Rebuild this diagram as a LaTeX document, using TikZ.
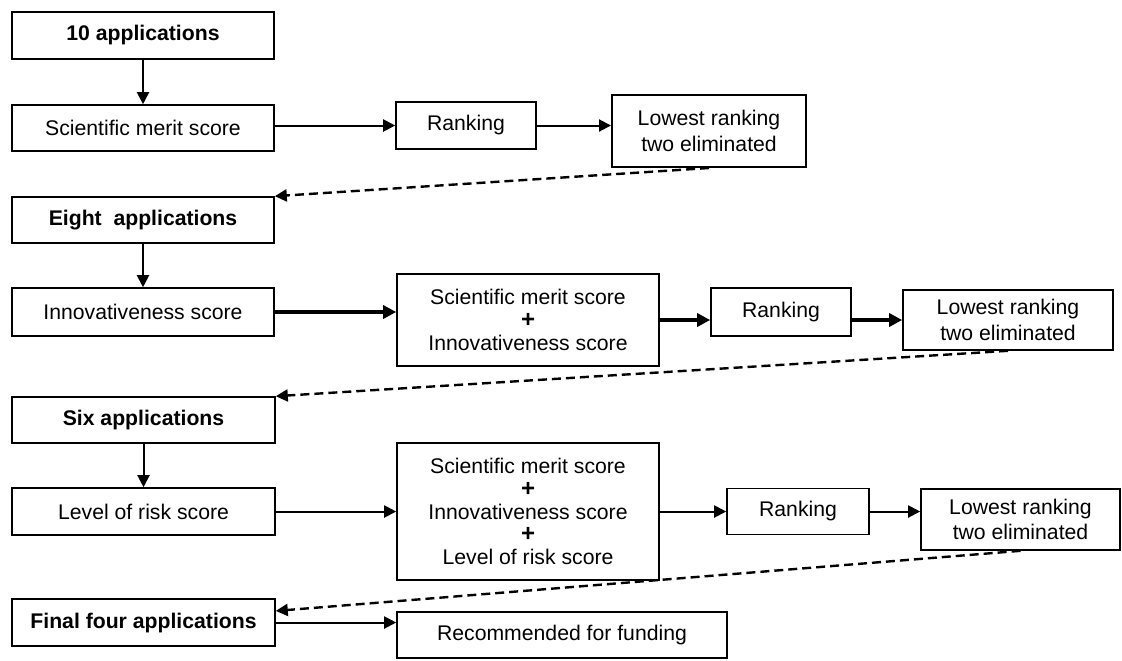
\documentclass[tikz,border=0pt]{standalone}
\usepackage{fontspec}
\setmainfont{Liberation Sans}
\usetikzlibrary{arrows.meta,positioning,calc}

\begin{document}
\begin{tikzpicture}
[x=0.5pt, y=-0.5pt, font=\fontsize{10.6}{12.6}\selectfont,
box/.style 2 args={draw, line width=0.8pt, inner sep=0pt, align=center,
  minimum width=#1, minimum height=#2},
title/.style={font=\fontsize{10.6}{12.6}\selectfont\bfseries},
link/.style={-{Triangle[length=6pt,width=6pt]}, line width=1pt},
thick link/.style={-{Triangle[length=6.5pt,width=6.5pt]}, line width=1.7pt},
back/.style={-{Triangle[length=6pt,width=6pt]}, line width=1.2pt,
  dash pattern=on 4.5pt off 2.5pt}]
\newcommand{\plusline}{{\fontsize{12}{12.6}\selectfont\bfseries +}}
\useasboundingbox (0,0) rectangle (1122,660);

% first round
\node (app10) at (143,35.5) [box={131pt}{23.5pt}, title] {10 applications};
\node (sms) at (143,128) [box={131pt}{23pt}] {Scientific merit score};
\node (rank1) at (466,125.5) [box={70pt}{23.5pt}] {Ranking};
\node (low1) at (709,131) [box={97pt}{36pt}, line width=1pt] {Lowest ranking\\two eliminated};

% second round
\node (app8) at (143,220) [box={131pt}{23pt}, title] {Eight~~applications};
\node (inno) at (143,312) [box={131pt}{24pt}] {Innovativeness score};
\node (sum2) at (528,320) [box={131pt}{46pt}] {Scientific merit score\\[-1.2pt]\plusline\\[-1.2pt]Innovativeness score};
\node (rank2) at (781,312) [box={70pt}{24pt}] {Ranking};
\node (low2) at (1008,320) [box={105pt}{30pt}] {Lowest ranking\\two eliminated};

% third round
\node (app6) at (143.5,420) [box={131.5pt}{23pt}, title] {Six applications};
\node (level) at (143.5,511.5) [box={131.5pt}{23.5pt}] {Level of risk score};
\node (sum3) at (528,511.5) [box={131pt}{68.5pt}] {Scientific merit score\\[-1.2pt]\plusline\\[-1.2pt]Innovativeness score\\[-1.2pt]\plusline\\[-1.2pt]Level of risk score};
\node (rank3) at (798,511.5) [box={71pt}{23pt}] {Ranking};
\node (low3) at (1020.5,519.5) [box={99.5pt}{30.5pt}] {Lowest ranking\\two eliminated};

% final
\node (final) at (143.5,622.5) [box={131.5pt}{23.5pt}, title] {Final four applications};
\node (rec) at (562,635) [box={165pt}{23pt}] {Recommended for funding};

\draw[link] (app10) to (sms);
\draw[link] (rank1.west -| sms.east) to (rank1.west);
\draw[link] (rank1) to (rank1 -| low1.west);
\draw[back] (low1.south) to (app8.north east);

\draw[link] (app8) to (inno);
\draw[thick link] (inno) to (inno -| sum2.west);
\draw[thick link] (sum2) to (sum2 -| rank2.west);
\draw[thick link] (low2.west -| rank2.east) to (low2.west);
\draw[back] (low2.south) to (app6.north east);

\draw[link] (app6) to (level);
\draw[link] (level) to (level -| sum3.west);
\draw[link] (sum3) to (sum3 -| rank3.west);
\draw[link] (rank3) to (rank3 -| low3.west);
\draw[back] (low3.south) to (final.5);

\draw[link] (final) to (final -| rec.west);
\end{tikzpicture}
\end{document}
